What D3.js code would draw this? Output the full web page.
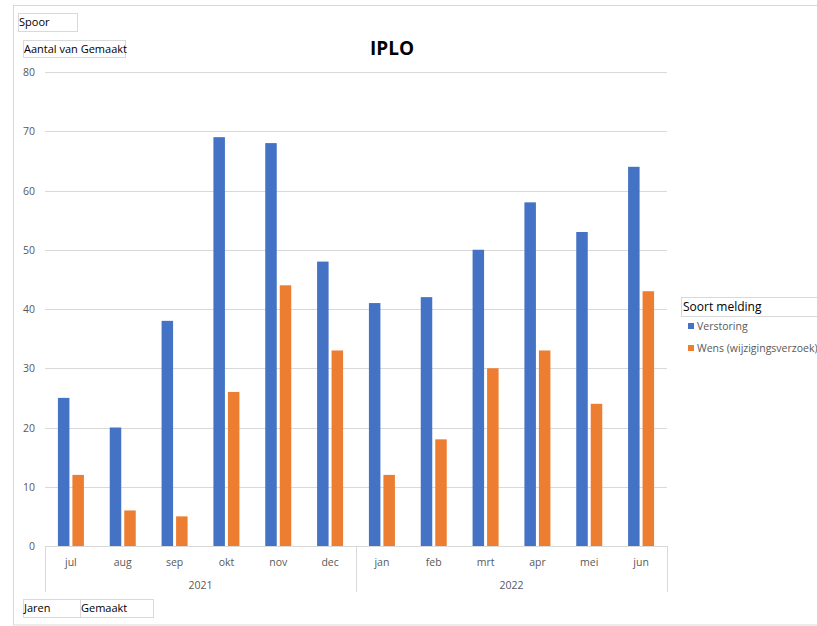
<!DOCTYPE html>
<html>
<head>
<meta charset="utf-8">
<script src="https://cdn.jsdelivr.net/npm/d3@7"></script>
<style>
  body { margin: 0; background: #fff; }
  text { font-family: "Open Sans", "Liberation Sans", sans-serif; }
</style>
</head>
<body>
<script>
var width = 817, height = 626;

// data
const months = ["jul","aug","sep","okt","nov","dec","jan","feb","mrt","apr","mei","jun"];
const years = ["2021","2021","2021","2021","2021","2021","2022","2022","2022","2022","2022","2022"];
const seriesNames = ["Verstoring", "Wens (wijzigingsverzoek)"];
const verstoring = [25,20,38,69,68,48,41,42,50,58,53,64];
const wens = [12,6,5,26,44,33,12,18,30,33,24,43];
const yTicks = [0,10,20,30,40,50,60,70,80];

const colors = ["#4472c4", "#ed7d31"];
const grey = "#595959";
const lineGrey = "#d9d9d9";

var svg = d3.select("body").append("svg")
  .attr("width", width)
  .attr("height", height);

// outer frame
svg.append("rect")
  .attr("x", 13.5).attr("y", 5.5)
  .attr("width", 830).attr("height", 619.5)
  .attr("fill", "none").attr("stroke", lineGrey);

const margin = {left: 45, right: 667, top: 72, bottom: 546};

let keys = months.map((m, i) => years[i] + "-" + m);

let x = d3.scaleBand()
  .domain(keys)
  .range([margin.left, margin.right]);

let y = d3.scaleLinear()
  .domain([0, 80])
  .range([margin.bottom, margin.top]);

// gridlines
svg.append("g")
  .selectAll("line")
  .data(yTicks)
  .enter().append("line")
  .attr("x1", margin.left).attr("x2", margin.right)
  .attr("y1", d => Math.round(y(d)) + 0.5)
  .attr("y2", d => Math.round(y(d)) + 0.5)
  .attr("stroke", lineGrey);

// y labels
svg.append("g")
  .selectAll("text")
  .data(yTicks)
  .enter().append("text")
  .attr("x", 35)
  .attr("y", d => y(d) + 4)
  .attr("text-anchor", "end")
  .attr("fill", grey)
  .style("font-size", "10.5px")
  .text(d => d);

// bars
let barW = 11.5, gap = 3;
let rows = keys.map((k, i) => ({key: k, vals: [verstoring[i], wens[i]]}));

let groups = svg.append("g").selectAll("g")
  .data(rows)
  .enter().append("g");

groups.selectAll("rect")
  .data(d => d.vals.map((v, j) => ({key: d.key, v: v, j: j})))
  .enter().append("rect")
  .attr("x", d => x(d.key) + x.bandwidth() / 2 - barW - gap / 2 + d.j * (barW + gap))
  .attr("width", barW)
  .attr("y", d => y(d.v))
  .attr("height", d => y(0) - y(d.v))
  .attr("fill", d => colors[d.j]);

// category axis
svg.append("line")
  .attr("x1", margin.left).attr("x2", margin.right)
  .attr("y1", margin.bottom + 0.5).attr("y2", margin.bottom + 0.5)
  .attr("stroke", lineGrey);

let yearGroups = d3.groups(keys.map((k, i) => ({k: k, year: years[i]})), d => d.year);
let seps = [margin.left];
yearGroups.forEach(g => seps.push(x(g[1][g[1].length - 1].k) + x.bandwidth()));

svg.append("g").selectAll("line")
  .data(seps)
  .enter().append("line")
  .attr("x1", d => Math.round(d) + 0.5).attr("x2", d => Math.round(d) + 0.5)
  .attr("y1", margin.bottom).attr("y2", 592)
  .attr("stroke", lineGrey);

svg.append("g").selectAll("text")
  .data(keys)
  .enter().append("text")
  .attr("x", d => x(d) + x.bandwidth() / 2)
  .attr("y", 566)
  .attr("text-anchor", "middle")
  .attr("fill", grey)
  .style("font-size", "10.5px")
  .text((d, i) => months[i]);

svg.append("g").selectAll("text")
  .data(yearGroups)
  .enter().append("text")
  .attr("x", g => (x(g[1][0].k) + x(g[1][g[1].length - 1].k) + x.bandwidth()) / 2)
  .attr("y", 589)
  .attr("text-anchor", "middle")
  .attr("fill", grey)
  .style("font-size", "10.5px")
  .text(g => g[0]);

// title
svg.append("text")
  .attr("x", 392).attr("y", 55)
  .attr("text-anchor", "middle")
  .style("font-size", "19px")
  .style("font-weight", "bold")
  .attr("fill", "#000")
  .text("IPLO");

// field buttons
function fieldButton(bx, by, bw, bh, label) {
  svg.append("rect")
    .attr("x", bx + 0.5).attr("y", by + 0.5)
    .attr("width", bw).attr("height", bh)
    .attr("fill", "#fff").attr("stroke", lineGrey);
  svg.append("text")
    .attr("x", bx + 1).attr("y", by + bh / 2 + 4)
    .attr("fill", "#000")
    .style("font-size", "11px")
    .text(label);
}
fieldButton(18, 13, 59, 18, "Spoor");
fieldButton(23, 40, 102, 17, "Aantal van Gemaakt");
fieldButton(23, 599, 57, 18, "Jaren");
fieldButton(80, 599, 73, 18, "Gemaakt");

// legend
svg.append("rect")
  .attr("x", 681.5).attr("y", 297.5)
  .attr("width", 150).attr("height", 19)
  .attr("fill", "#fff").attr("stroke", lineGrey);
svg.append("text")
  .attr("x", 683).attr("y", 311)
  .style("font-size", "12px")
  .attr("fill", "#000")
  .text("Soort melding");

let legend = svg.append("g").selectAll("g")
  .data(seriesNames)
  .enter().append("g")
  .attr("transform", (d, i) => `translate(688, ${323 + i * 22})`);
legend.append("rect")
  .attr("width", 6).attr("height", 6)
  .attr("fill", (d, i) => colors[i]);
legend.append("text")
  .attr("x", 9).attr("y", 7)
  .attr("fill", grey)
  .style("font-size", "10.5px")
  .text(d => d);
</script>
</body>
</html>
